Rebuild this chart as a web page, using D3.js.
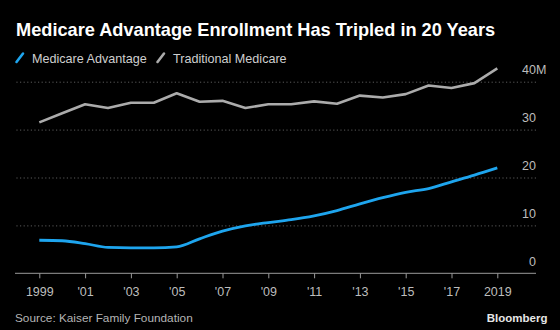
<!DOCTYPE html>
<html lang="en">
<head>
    <meta charset="utf-8">
    <title>Medicare Advantage</title>
    <script src="https://d3js.org/d3.v7.min.js"></script>
    <style>
        body { margin: 0; background: #000; }
        svg { display: block; font-family: "Liberation Sans", Arial, sans-serif; }
        .grid line { stroke: #5a5a5a; stroke-dasharray: 1.2,2.4; }
        .grid .domain { display: none; }
        .yaxis text { fill: #bdbdbd; font-size: 12.5px; }
        .yaxis line, .yaxis .domain { display: none; }
        .xaxis text { fill: #bdbdbd; font-size: 12.5px; }
        .xaxis line, .xaxis .domain { stroke: #9a9a9a; }
    </style>
</head>
<body>
<div id="chart"></div>
<script>
    // data (millions of enrollees)
    const years = [1999, 2000, 2001, 2002, 2003, 2004, 2005, 2006, 2007, 2008, 2009,
                   2010, 2011, 2012, 2013, 2014, 2015, 2016, 2017, 2018, 2019];
    const advantage = [6.9, 6.8, 6.2, 5.4, 5.3, 5.3, 5.5, 7.2, 8.8, 9.9, 10.6,
                       11.2, 12.0, 13.1, 14.5, 15.8, 16.9, 17.7, 19.1, 20.5, 22.0];
    const traditional = [31.5, 33.4, 35.3, 34.5, 35.6, 35.6, 37.6, 35.8, 36.0, 34.5, 35.3,
                         35.3, 35.9, 35.4, 37.1, 36.7, 37.4, 39.2, 38.7, 39.7, 42.8];
    const xTicks = [1999, 2001, 2003, 2005, 2007, 2009, 2011, 2013, 2015, 2017, 2019];
    const yTicks = [0, 10, 20, 30, 40];

    const width = 560;
    const height = 330;
    const left = 15;
    const right = 536;

    const svg = d3.select("#chart")
        .append("svg")
        .attr("width", width)
        .attr("height", height);

    svg.append("rect").attr("width", width).attr("height", height).attr("fill", "#000");

    const x = d3.scaleLinear().domain([1999, 2019]).range([39.3, 497.3]);
    const y = d3.scaleLinear().domain([0, 40]).range([273.3, 81.7]);

    // dotted gridlines
    svg.append("g")
        .attr("class", "grid")
        .attr("transform", "translate(" + right + ",0)")
        .call(d3.axisLeft(y).tickValues(yTicks.filter(d => d > 0)).tickSize(right - left).tickFormat(""));

    // y labels on the right, sitting above each line
    const yAxis = svg.append("g")
        .attr("class", "yaxis")
        .attr("transform", "translate(" + right + ",0)")
        .call(d3.axisLeft(y).tickValues(yTicks).tickSize(0).tickPadding(0));
    yAxis.selectAll("text")
        .attr("dy", -8)
        .attr("text-anchor", "end");
    yAxis.selectAll(".tick")
        .filter(d => d === 40)
        .append("text")
        .attr("x", 0)
        .attr("dy", -8)
        .attr("text-anchor", "start")
        .attr("fill", "#bdbdbd")
        .text("M");

    // x axis baseline
    const xAxis = svg.append("g")
        .attr("class", "xaxis")
        .attr("transform", "translate(0," + y(0) + ")")
        .call(d3.axisBottom(x)
            .tickValues(xTicks)
            .tickSize(5)
            .tickSizeOuter(0)
            .tickPadding(9)
            .tickFormat(d => (d === 1999 || d === 2019) ? String(d) : "'" + String(d).slice(2)));
    xAxis.select(".domain").attr("d", "M" + left + ",0H" + right);

    const rows = years.map((yr, i) => ({ year: yr, ma: advantage[i], tm: traditional[i] }));

    svg.append("path")
        .datum(rows)
        .attr("fill", "none")
        .attr("stroke", "#ababab")
        .attr("stroke-width", 2.6)
        .attr("stroke-linejoin", "round")
        .attr("d", d3.line().x(d => x(d.year)).y(d => y(d.tm)));

    svg.append("path")
        .datum(rows)
        .attr("fill", "none")
        .attr("stroke", "#1ea5ee")
        .attr("stroke-width", 2.8)
        .attr("stroke-linejoin", "round")
        .attr("d", d3.line().curve(d3.curveMonotoneX).x(d => x(d.year)).y(d => y(d.ma)));

    // title + legend
    svg.append("text")
        .attr("x", 16)
        .attr("y", 35.5)
        .attr("fill", "#fff")
        .attr("font-weight", "bold")
        .attr("font-size", "18.2px")
        .text("Medicare Advantage Enrollment Has Tripled in 20 Years");

    const legend = [
        { name: "Medicare Advantage", color: "#1ea5ee", x: 16 },
        { name: "Traditional Medicare", color: "#ababab", x: 157 }
    ];
    const lg = svg.append("g").selectAll("g").data(legend).enter().append("g")
        .attr("transform", d => "translate(" + d.x + ",0)");
    lg.append("line")
        .attr("x1", 0.5).attr("y1", 62)
        .attr("x2", 7).attr("y2", 53.5)
        .attr("stroke", d => d.color)
        .attr("stroke-width", 2.6)
        .attr("stroke-linecap", "round");
    lg.append("text")
        .attr("x", 16)
        .attr("y", 62.5)
        .attr("fill", "#cfcfcf")
        .attr("font-size", "12.6px")
        .text(d => d.name);

    // footer
    svg.append("text")
        .attr("x", 15)
        .attr("y", 322)
        .attr("fill", "#b5b5b5")
        .attr("font-size", "11.8px")
        .text("Source: Kaiser Family Foundation");

    svg.append("text")
        .attr("x", 547.5)
        .attr("y", 321.7)
        .attr("text-anchor", "end")
        .attr("fill", "#e6e6e6")
        .attr("font-weight", "bold")
        .attr("font-size", "11.5px")
        .text("Bloomberg");
</script>
</body>
</html>
